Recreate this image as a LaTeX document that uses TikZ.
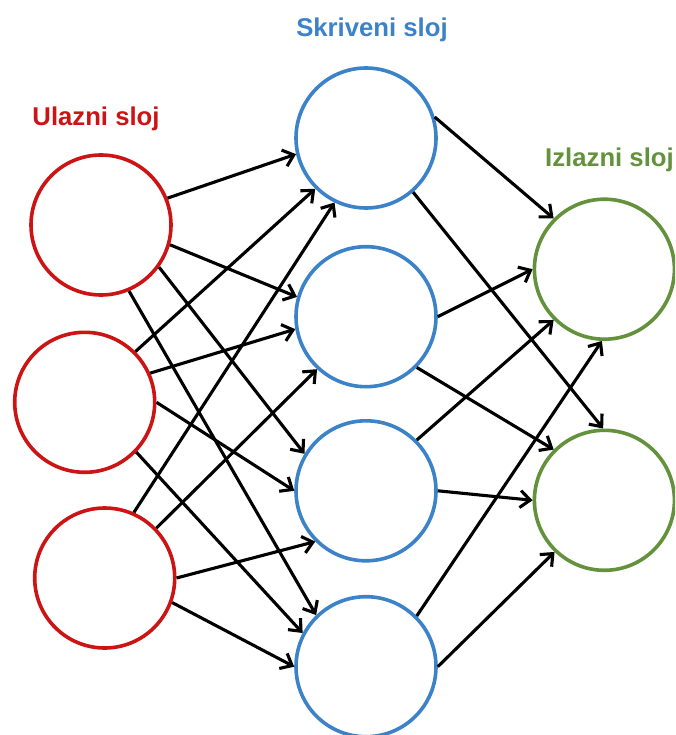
\documentclass[tikz,border=0pt]{standalone}
\usepackage{fontspec}
\setmainfont{Liberation Sans}
\usetikzlibrary{arrows.meta}
\definecolor{inred}{RGB}{204,20,20}
\definecolor{hidblue}{RGB}{60,130,200}
\definecolor{outgreen}{RGB}{100,145,60}
\tikzset{
  neuron/.style={circle, draw, line width=3.6pt, minimum size=140pt, inner sep=0pt},
  inneuron/.style={neuron, draw=inred},
  hidneuron/.style={neuron, draw=hidblue},
  outneuron/.style={neuron, draw=outgreen},
  link/.style={line width=3.1pt, draw=black, -{Straight Barb[length=10pt,width=17pt]}},
  layerlabel/.style={font=\bfseries\fontsize{25.7}{30}\selectfont, anchor=base, inner sep=0pt}
}
\begin{document}
\begin{tikzpicture}[x=1pt,y=-1pt]
\useasboundingbox (0,0) rectangle (675,735);
\clip (0,0) rectangle (675,735);
% labels
\node[layerlabel, text=inred] (lin) at (96,125.5) {Ulazni sloj};
\node[layerlabel, text=hidblue] (lhid) at (372,36.5) {Skriveni sloj};
\node[layerlabel, text=outgreen] (lout) at (609.5,166.5) {Izlazni sloj};
% neurons
\node[inneuron] (i1) at (101,225) {};
\node[inneuron] (i2) at (84.7,402.3) {};
\node[inneuron] (i3) at (104.7,578) {};
\node[hidneuron] (h1) at (366,138) {};
\node[hidneuron] (h2) at (366,316.7) {};
\node[hidneuron] (h3) at (366,490.8) {};
\node[hidneuron] (h4) at (366,666.7) {};
\node[outneuron] (o1) at (604.4,269.2) {};
\node[outneuron] (o2) at (604.4,500.3) {};
% input -> hidden
\draw[link] (i1.22) -- (h1.193);
\draw[link] (i1.-16) -- (h2.164);
\draw[link] (i1.-36) -- (h3.149);
\draw[link] (i1.-67) -- (h4.134);
\draw[link] (i2.45) -- (h1.225);
\draw[link] (i2.24) -- (h2.190);
\draw[link] (i2.0) -- (h3.180);
\draw[link] (i2.-44) -- (h4.152);
\draw[link] (i3.66) -- (h1.244);
\draw[link] (i3.44) -- (h2.227);
\draw[link] (i3.0) -- (h3.225);
\draw[link] (i3.-20) -- (h4.180);
% hidden -> output
\draw[link] (h1.17) -- (o1.135);
\draw[link] (h1.-49) -- (o2.91);
\draw[link] (h2.0) -- (o1.180);
\draw[link] (h2.-45) -- (o2.135);
\draw[link] (h3.45) -- (o1.225);
\draw[link] (h3.0) -- (o2.180);
\draw[link] (h4.45) -- (o1.268);
\draw[link] (h4.0) -- (o2.226);
\end{tikzpicture}
\end{document}
